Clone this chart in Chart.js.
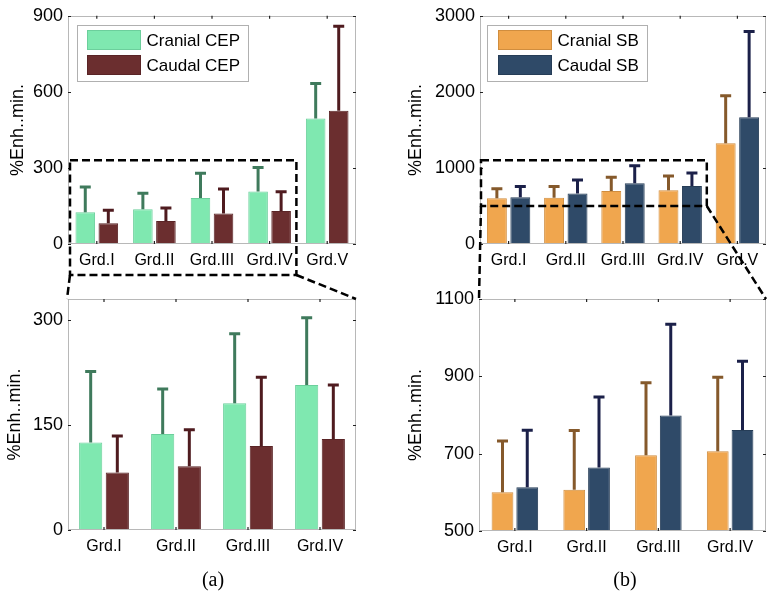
<!DOCTYPE html>
<html><head><meta charset="utf-8">
<script src="https://cdn.jsdelivr.net/npm/chart.js@4.4.0/dist/chart.umd.min.js"></script>
<style>
html,body{margin:0;padding:0;background:#fff;}
#wrap{position:relative;width:776px;height:595px;overflow:hidden;background:#fff;}
canvas{position:absolute;}
.cap{position:absolute;font-family:'Liberation Serif','Times New Roman',serif;font-size:20px;color:#000;transform:translateX(-50%);line-height:20px;}
</style></head>
<body><div id="wrap">
<canvas id="aTop" width="380" height="290" style="left:0px;top:0px"></canvas>
<canvas id="aBot" width="380" height="290" style="left:0px;top:280px"></canvas>
<canvas id="bTop" width="386" height="290" style="left:390px;top:0px"></canvas>
<canvas id="bBot" width="386" height="290" style="left:390px;top:280px"></canvas>
<canvas id="overlay" width="776" height="595" style="left:0;top:0;pointer-events:none"></canvas>
<div class="cap" style="left:213px;top:569px">(a)</div>
<div class="cap" style="left:625px;top:569px">(b)</div>
</div>
<script>
// ---------------- data ----------------
const categories = ['Grd.I','Grd.II','Grd.III','Grd.IV','Grd.V'];
const zoomCategories = ['Grd.I','Grd.II','Grd.III','Grd.IV'];

const cepCranial    = [125, 137, 181, 207, 495];
const cepCranialErr = [227, 202, 281, 304, 635];   // top of error bar
const cepCaudal     = [82, 91, 120, 130, 526];
const cepCaudalErr  = [135, 144, 219, 208, 861];

const sbCranial     = [600, 607, 696, 706, 1325];
const sbCranialErr  = [734, 761, 885, 899, 1956];
const sbCaudal      = [613, 664, 799, 761, 1666];
const sbCaudalErr   = [762, 848, 1036, 940, 2800];

const aTopTicks = [0, 300, 600, 900];
const aBotTicks = [0, 150, 300];
const bTopTicks = [0, 1000, 2000, 3000];
const bBotTicks = [500, 700, 900, 1100];
const aTopRange = [0, 900];
const aBotRange = [0, 330];
const bTopRange = [0, 3000];
const bBotRange = [500, 1100];

const yTitle = '%Enh..min.';

// ---------------- styles ----------------
const FONT = "'Liberation Sans', Arial, Helvetica, sans-serif";
const C = {
  cepCr: {bg:'#7fe8b0', bd:'#6ccf9c', err:'#3f7a5c'},
  cepCa: {bg:'#6b2e2f', bd:'#5a2426', err:'#4f1b1f'},
  sbCr:  {bg:'#f0a64e', bd:'#d08d3e', err:'#85592b'},
  sbCa:  {bg:'#2f4a68', bd:'#263d57', err:'#1b2049'}
};

const framePlugin = {
  id: 'frame',
  afterDatasetsDraw(chart) {
    const {ctx, chartArea: a, scales: {y}} = chart;
    ctx.save();
    ctx.beginPath(); ctx.rect(a.left, a.top - 2, a.right - a.left, a.bottom - a.top + 2); ctx.clip();
    chart.data.datasets.forEach((ds, i) => {
      const meta = chart.getDatasetMeta(i);
      ctx.strokeStyle = ds.errColor; ctx.lineWidth = 3; ctx.lineCap = 'butt';
      meta.data.forEach((el, j) => {
        const yt = y.getPixelForValue(ds.errTop[j]);
        ctx.beginPath();
        ctx.moveTo(el.x, el.y); ctx.lineTo(el.x, yt);
        ctx.moveTo(el.x - 5.5, yt + 0.5); ctx.lineTo(el.x + 5.5, yt + 0.5);
        ctx.stroke();
      });
    });
    ctx.restore();
  },
  afterDraw(chart, args, opts) {
    const {ctx, chartArea: a, scales: {x, y}} = chart;
    ctx.save();
    ctx.strokeStyle = '#b8b8b8'; ctx.lineWidth = 1;
    ctx.strokeRect(Math.round(a.left) + 0.5, Math.round(a.top) + 0.5,
                   Math.round(a.right - a.left) - 1, Math.round(a.bottom - a.top) - 1);
    ctx.strokeStyle = '#222'; ctx.lineWidth = 1.2;
    x.ticks.forEach((t, i) => {
      const px = x.getPixelForTick(i);
      ctx.beginPath();
      ctx.moveTo(px, a.top); ctx.lineTo(px, a.top + 3);
      ctx.moveTo(px, a.bottom); ctx.lineTo(px, a.bottom - 3);
      ctx.stroke();
    });
    y.ticks.forEach(t => {
      const py = Math.round(y.getPixelForValue(t.value)) + 0.5;
      ctx.beginPath();
      ctx.moveTo(a.left, py); ctx.lineTo(a.left + 3, py);
      ctx.moveTo(a.right, py); ctx.lineTo(a.right - 3, py);
      ctx.stroke();
    });
    if (opts && opts.legend) {
      const L = opts.legend;
      const bx = Math.round(a.left + L.dx) + 0.5, by = Math.round(a.top + L.dy) + 0.5;
      ctx.fillStyle = '#fff'; ctx.fillRect(bx, by, L.w, L.h);
      ctx.strokeStyle = '#b0b0b0'; ctx.lineWidth = 1; ctx.strokeRect(bx, by, L.w, L.h);
      ctx.font = '17px ' + FONT; ctx.textBaseline = 'middle'; ctx.textAlign = 'left';
      chart.data.datasets.forEach((ds, i) => {
        const sy = by + 5 + i * 25;
        ctx.fillStyle = ds.backgroundColor; ctx.fillRect(bx + L.sx, sy, 53, 19);
        ctx.strokeStyle = ds.borderColor; ctx.strokeRect(bx + L.sx, sy, 53, 19);
        ctx.fillStyle = '#000'; ctx.fillText(ds.label, bx + L.tx, sy + 11);
      });
    }
    ctx.restore();
  }
};

function makeChart(id, cats, sets, range, ticks, geo) {
  return new Chart(document.getElementById(id), {
    type: 'bar',
    data: {
      labels: cats,
      datasets: sets.map(s => ({
        label: s.label, data: s.data, errTop: s.err, errColor: s.col.err,
        backgroundColor: s.col.bg, borderColor: s.col.bd, borderWidth: 1,
        categoryPercentage: geo.cp, barPercentage: geo.bp
      }))
    },
    options: {
      responsive: false, animation: false, devicePixelRatio: 1,
      layout: {padding: {left: 0, top: geo.pt, right: geo.pr, bottom: 0}},
      plugins: {legend: {display: false}, tooltip: {enabled: false},
                frame: {legend: geo.legend || null}},
      scales: {
        x: {
          grid: {display: false, drawTicks: false}, border: {display: false},
          ticks: {color: '#000', font: {size: 16, family: FONT}, padding: 7, maxRotation: 0, autoSkip: false},
          afterFit(s) { s.height = geo.xh; }
        },
        y: {
          min: range[0], max: range[1],
          grid: {display: false, drawTicks: false}, border: {display: false},
          ticks: {color: '#000', font: {size: 18, family: FONT}, padding: 5,
                  callback: v => String(v)},
          afterBuildTicks(s) { s.ticks = ticks.map(v => ({value: v})); },
          title: {display: true, text: yTitle, color: '#000', font: {size: 18, family: FONT},
                  padding: {top: geo.tp, bottom: 0}},
          afterFit(s) { s.width = geo.yw; }
        }
      }
    },
    plugins: [framePlugin]
  });
}

const cAT = makeChart('aTop', categories, [
  {label: 'Cranial CEP', data: cepCranial, err: cepCranialErr, col: C.cepCr},
  {label: 'Caudal CEP', data: cepCaudal, err: cepCaudalErr, col: C.cepCa}
], aTopRange, aTopTicks, {pt: 13, pr: 24, xh: 46, yw: 68, tp: 7, cp: 0.8, bp: 0.85,
  legend: {dx: 9, dy: 9, w: 171, h: 56, sx: 10, tx: 69}});

const cAB = makeChart('aBot', zoomCategories, [
  {label: 'Cranial CEP', data: cepCranial.slice(0, 4), err: cepCranialErr.slice(0, 4), col: C.cepCr},
  {label: 'Caudal CEP', data: cepCaudal.slice(0, 4), err: cepCaudalErr.slice(0, 4), col: C.cepCa}
], aBotRange, aBotTicks, {pt: 19, pr: 24, xh: 40, yw: 68, tp: 4, cp: 0.74, bp: 0.87});

const cBT = makeChart('bTop', categories, [
  {label: 'Cranial SB', data: sbCranial, err: sbCranialErr, col: C.sbCr},
  {label: 'Caudal SB', data: sbCaudal, err: sbCaudalErr, col: C.sbCa}
], bTopRange, bTopTicks, {pt: 13, pr: 10, xh: 46, yw: 90, tp: 15, cp: 0.82, bp: 0.85,
  legend: {dx: 7, dy: 9, w: 160, h: 56, sx: 11, tx: 70}});

const cBB = makeChart('bBot', zoomCategories, [
  {label: 'Cranial SB', data: sbCranial.slice(0, 4), err: sbCranialErr.slice(0, 4), col: C.sbCr},
  {label: 'Caudal SB', data: sbCaudal.slice(0, 4), err: sbCaudalErr.slice(0, 4), col: C.sbCa}
], bBotRange, bBotTicks, {pt: 19, pr: 10, xh: 39, yw: 89, tp: 15, cp: 0.69, bp: 0.88});

// ---------------- zoom indicators ----------------
function off(ch) { const c = ch.canvas; return {x: parseFloat(c.style.left), y: parseFloat(c.style.top)}; }
function drawOverlay() {
  const o = document.getElementById('overlay').getContext('2d');
  o.setLineDash([8, 4]); o.lineWidth = 2.5; o.strokeStyle = '#000';
  {
    const ot = off(cAT), ob = off(cAB);
    const L = ot.x + cAT.chartArea.left + 2;
    const R = ot.x + cAT.scales.x.getPixelForValue(3.5) - 2;
    const T = ot.y + cAT.scales.y.getPixelForValue(cAB.scales.y.max);
    const B = ot.y + cAT.chartArea.bottom + 31;
    o.strokeRect(L, T, R - L, B - T);
    o.beginPath();
    o.moveTo(L, B); o.lineTo(ob.x + cAB.chartArea.left - 1, ob.y + cAB.chartArea.top);
    o.moveTo(R, B); o.lineTo(ob.x + cAB.chartArea.right, ob.y + cAB.chartArea.top);
    o.stroke();
  }
  {
    const ot = off(cBT), ob = off(cBB);
    const L = ot.x + cBT.chartArea.left + 1;
    const R = ot.x + cBT.scales.x.getPixelForValue(3.5) - 2;
    const T = ot.y + cBT.scales.y.getPixelForValue(cBB.scales.y.max);
    const B = ot.y + cBT.scales.y.getPixelForValue(cBB.scales.y.min);
    o.strokeRect(L, T, R - L, B - T);
    o.beginPath();
    o.moveTo(L, B); o.lineTo(ob.x + cBB.chartArea.left, ob.y + cBB.chartArea.top);
    o.moveTo(R, B); o.lineTo(ob.x + cBB.chartArea.right, ob.y + cBB.chartArea.top);
    o.stroke();
  }
}
drawOverlay();
</script>
</body></html>
